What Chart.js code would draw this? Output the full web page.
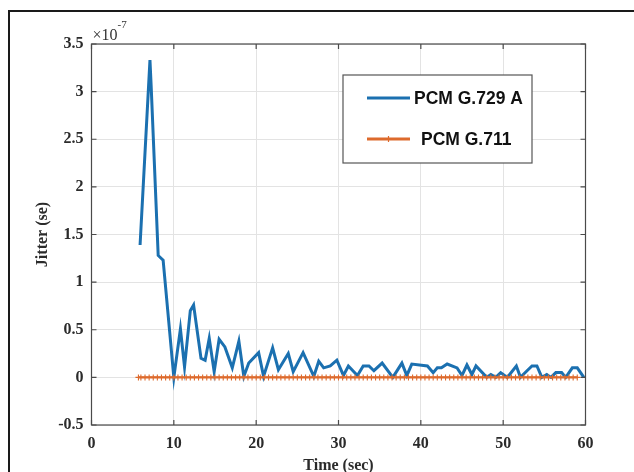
<!DOCTYPE html>
<html>
<head>
<meta charset="utf-8">
<script src="https://cdn.jsdelivr.net/npm/chart.js@4.4.1/dist/chart.umd.min.js"></script>
<style>
html, body { margin: 0; padding: 0; background: #fff; overflow: hidden; }
#wrap { position: relative; width: 634px; height: 472px; }
#frame { position: absolute; left: 8px; top: 10px; width: 660px; height: 500px; border: 2px solid #1a1a1a; box-sizing: border-box; }
#chart { position: absolute; left: 0; top: 0; }
</style>
</head>
<body>
<div id="wrap">
  <div id="frame"></div>
  <canvas id="chart" width="634" height="472"></canvas>
</div>
<script>
// values in units of 1e-7 s
const seriesLabels = ['PCM G.729 A', 'PCM G.711'];

const timeG729 = [5.9, 7.1, 7.25, 8.1, 8.7, 10.0, 10.8, 11.3, 12.0, 12.4, 13.3, 13.8, 14.3, 14.9, 15.5,
  16.2, 17.1, 17.9, 18.5, 19.1, 20.3, 20.9, 22.0, 22.7, 23.9, 24.5, 25.7, 27.0, 27.6, 28.2,
  29.0, 29.8, 30.6, 31.2, 32.3, 33.0, 33.7, 34.3, 35.3, 36.6, 37.7, 38.3, 38.9, 40.8, 41.5,
  42.0, 42.5, 43.2, 44.4, 45.0, 45.6, 46.2, 46.7, 48.0, 48.5, 49.1, 49.7, 50.5, 51.6, 52.1,
  52.9, 53.5, 54.1, 54.7, 55.3, 55.8, 56.4, 57.1, 57.6, 58.4, 59.0, 59.8];
const jitterG729 = [1.39, 3.33, 3.05, 1.28, 1.23, 0.0, 0.51, 0.11, 0.7, 0.76, 0.2, 0.18, 0.41, 0.06, 0.4,
  0.32, 0.1, 0.38, 0.01, 0.15, 0.26, 0.01, 0.31, 0.08, 0.25, 0.06, 0.26, 0.01, 0.17, 0.1,
  0.12, 0.18, 0.02, 0.12, 0.02, 0.12, 0.12, 0.07, 0.15, 0.0, 0.15, 0.02, 0.14, 0.12, 0.05,
  0.1, 0.1, 0.14, 0.1, 0.02, 0.13, 0.03, 0.12, 0.0, 0.03, 0.0, 0.05, 0.0, 0.12, 0.0,
  0.07, 0.12, 0.12, 0.0, 0.03, 0.0, 0.05, 0.05, 0.0, 0.1, 0.1, 0.0];

const timeG711 = [5.7, 6, 6.5, 7, 7.5, 8, 8.5, 9, 9.5, 10, 10.5, 11, 11.5, 12, 12.5, 13, 13.5, 14, 14.5,
  15, 15.5, 16, 16.5, 17, 17.5, 18, 18.5, 19, 19.5, 20, 20.5, 21, 21.5, 22, 22.5, 23, 23.5,
  24, 24.5, 25, 25.5, 26, 26.5, 27, 27.5, 28, 28.5, 29, 29.5, 30, 30.5, 31, 31.5, 32, 32.5,
  33, 33.5, 34, 34.5, 35, 35.5, 36, 36.5, 37, 37.5, 38, 38.5, 39, 39.5, 40, 40.5, 41, 41.5,
  42, 42.5, 43, 43.5, 44, 44.5, 45, 45.5, 46, 46.5, 47, 47.5, 48, 48.5, 49, 49.5, 50, 50.5,
  51, 51.5, 52, 52.5, 53, 53.5, 54, 54.5, 55, 55.5, 56, 56.5, 57, 57.5, 58, 58.5, 59, 59.5, 60];
const jitterG711 = [0, 0, 0, 0, 0, 0, 0, 0, 0, 0, 0, 0, 0, 0, 0, 0, 0, 0, 0, 0, 0, 0, 0, 0, 0, 0, 0,
  0, 0, 0, 0, 0, 0, 0, 0, 0, 0, 0, 0, 0, 0, 0, 0, 0, 0, 0, 0, 0, 0, 0, 0, 0, 0, 0, 0, 0, 0,
  0, 0, 0, 0, 0, 0, 0, 0, 0, 0, 0, 0, 0, 0, 0, 0, 0, 0, 0, 0, 0, 0, 0, 0, 0, 0, 0, 0, 0, 0,
  0, 0, 0, 0, 0, 0, 0, 0, 0, 0, 0, 0, 0, 0, 0, 0, 0, 0, 0, 0, 0];

const xTicks = [0, 10, 20, 30, 40, 50, 60];
const yTicks = [-0.5, 0, 0.5, 1, 1.5, 2, 2.5, 3, 3.5];

const blue = '#1b70b0';
const orange = '#dd6a2c';
const serif = "'Liberation Serif', 'Times New Roman', serif";
const sans = "'Liberation Sans', Arial, sans-serif";

const toPoints = (xs, ys) => xs.map((x, i) => ({ x: x, y: ys[i] }));

// box, inward ticks, exponent and legend like matlab
const matlabBox = {
    id: 'matlabBox',
    afterDatasetsDraw(chart) {
        const ctx = chart.ctx;
        const a = chart.chartArea;
        const sx = chart.scales.x, sy = chart.scales.y;
        ctx.save();
        ctx.strokeStyle = '#4a4a4a';
        ctx.lineWidth = 1.2;
        ctx.strokeRect(a.left, a.top, a.right - a.left, a.bottom - a.top);
        ctx.beginPath();
        xTicks.forEach(v => {
            const px = sx.getPixelForValue(v);
            ctx.moveTo(px, a.bottom); ctx.lineTo(px, a.bottom - 5);
            ctx.moveTo(px, a.top); ctx.lineTo(px, a.top + 5);
        });
        yTicks.forEach(v => {
            const py = sy.getPixelForValue(v);
            ctx.moveTo(a.left, py); ctx.lineTo(a.left + 5, py);
            ctx.moveTo(a.right, py); ctx.lineTo(a.right - 5, py);
        });
        ctx.stroke();
        ctx.restore();
    },
    afterDraw(chart) {
        const ctx = chart.ctx;
        const a = chart.chartArea;
        ctx.save();
        // exponent
        ctx.fillStyle = '#333';
        ctx.textBaseline = 'alphabetic';
        ctx.textAlign = 'left';
        ctx.font = '16px ' + serif;
        ctx.fillText('\u00d710', a.left + 1, a.top - 4);
        const w = ctx.measureText('\u00d710').width;
        ctx.font = '11px ' + serif;
        ctx.fillText('-7', a.left + 1 + w, a.top - 16);

        // legend
        const lx = 343, ly = 75, lw = 189, lh = 88;
        ctx.fillStyle = '#fff';
        ctx.fillRect(lx, ly, lw, lh);
        ctx.strokeStyle = '#555';
        ctx.lineWidth = 1.2;
        ctx.strokeRect(lx, ly, lw, lh);
        const rows = [ly + 23, ly + 64];
        const textX = [414, 421];
        chart.data.datasets.forEach((ds, i) => {
            const y = rows[i];
            ctx.strokeStyle = ds.borderColor;
            ctx.lineWidth = 3;
            ctx.beginPath();
            ctx.moveTo(367, y); ctx.lineTo(410, y);
            ctx.stroke();
            if (ds.pointStyle === 'cross') {
                ctx.lineWidth = 1.2;
                ctx.beginPath();
                ctx.moveTo(388.5, y - 3); ctx.lineTo(388.5, y + 3);
                ctx.stroke();
            }
            ctx.fillStyle = '#111';
            ctx.font = 'bold 17.5px ' + sans;
            ctx.textBaseline = 'middle';
            ctx.fillText(ds.label, textX[i], y + 1);
        });
        ctx.restore();
    }
};

const ctx = document.getElementById('chart').getContext('2d');

const jitterChart = new Chart(ctx, {
    type: 'line',
    data: {
        datasets: [{
                label: seriesLabels[0],
                data: toPoints(timeG729, jitterG729),
                borderColor: blue,
                borderWidth: 3,
                pointRadius: 0,
                tension: 0,
                order: 2,
            },
            {
                label: seriesLabels[1],
                data: toPoints(timeG711, jitterG711),
                borderColor: orange,
                backgroundColor: orange,
                borderWidth: 2.2,
                pointStyle: 'cross',
                pointRadius: 3,
                pointBorderWidth: 1.1,
                pointBorderColor: orange,
                tension: 0,
                clip: 5,
                order: 1,
            }
        ]
    },
    options: {
        responsive: false,
        animation: false,
        layout: { padding: { top: 44, right: 48.5, left: 20, bottom: 0 } },
        plugins: {
            legend: { display: false },
            tooltip: { enabled: false }
        },
        scales: {
            x: {
                type: 'linear',
                min: 0,
                max: 60,
                afterFit: (s) => { s.height = 47; },
                afterBuildTicks: (s) => { s.ticks = xTicks.map(v => ({ value: v })); },
                ticks: {
                    padding: 9,
                    color: '#2b2b2b',
                    font: { family: serif, size: 16, weight: 'bold' },
                    callback: (v) => String(v)
                },
                grid: { color: '#e3e3e3', lineWidth: 1, drawTicks: false },
                border: { display: false },
                title: {
                    display: true,
                    text: 'Time (sec)',
                    color: '#2b2b2b',
                    font: { family: serif, size: 16, weight: 'bold', lineHeight: 0.8 },
                    padding: 0
                }
            },
            y: {
                type: 'linear',
                min: -0.5,
                max: 3.5,
                afterFit: (s) => { s.width = 71.5; },
                afterBuildTicks: (s) => { s.ticks = yTicks.map(v => ({ value: v })); },
                ticks: {
                    padding: 8,
                    color: '#2b2b2b',
                    font: { family: serif, size: 16, weight: 'bold' },
                    callback: (v) => String(v)
                },
                grid: { color: '#e3e3e3', lineWidth: 1, drawTicks: false },
                border: { display: false },
                title: {
                    display: true,
                    text: 'Jitter (se)',
                    color: '#2b2b2b',
                    font: { family: serif, size: 16, weight: 'bold', lineHeight: 1.2 },
                    padding: { top: 13, bottom: 0 }
                }
            }
        }
    },
    plugins: [matlabBox]
});
</script>
</body>
</html>
